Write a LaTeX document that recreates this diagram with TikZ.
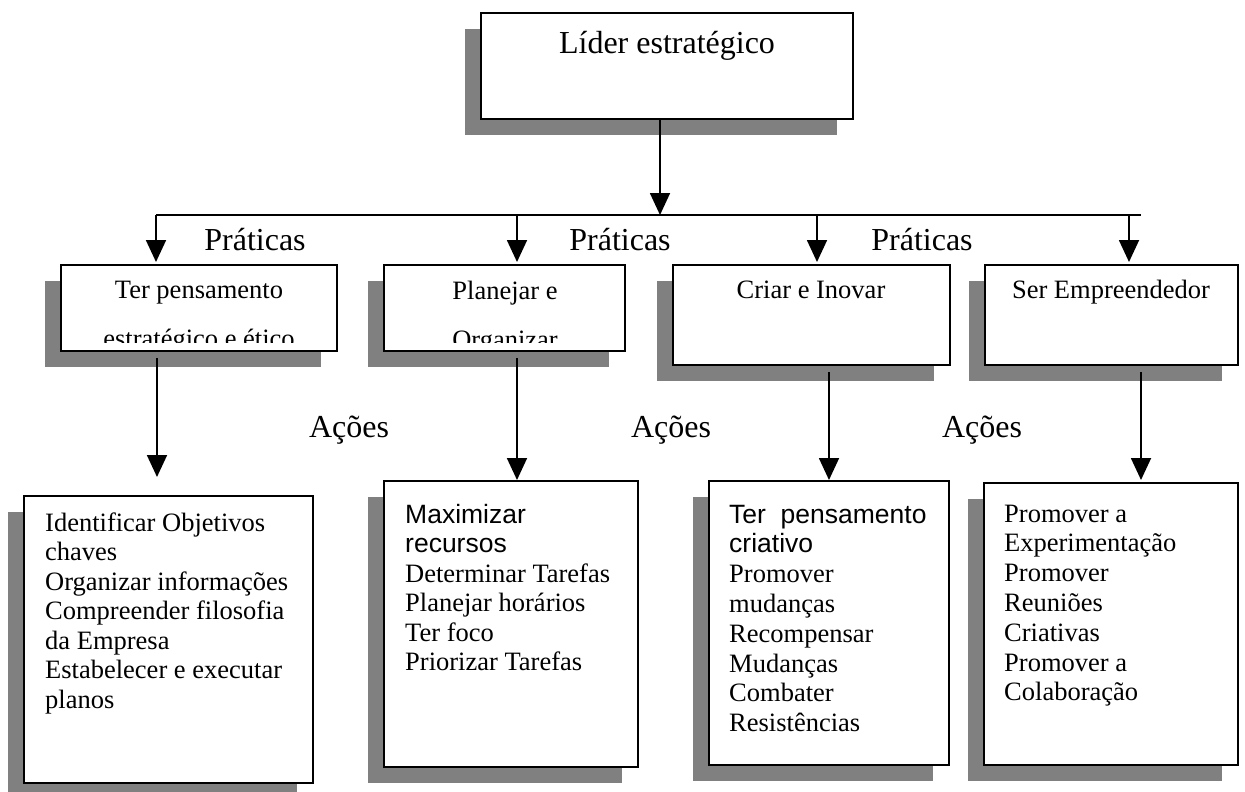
\documentclass[tikz,border=0pt]{standalone}
\usepackage{fontspec}
\setmainfont{Liberation Serif}
\newfontfamily\arialf{Liberation Sans}
\usetikzlibrary{arrows.meta,shadows}
\definecolor{shadowgray}{HTML}{808080}
\begin{document}
\begin{tikzpicture}[x=1pt,y=-1pt,
  box/.style={draw=black, line width=2pt, fill=white, inner sep=0pt, outer sep=0pt, anchor=north west,
     drop shadow={shadow xshift=-16pt, shadow yshift=-16pt, fill=shadowgray, opacity=1}},
  wire/.style={line width=1.8pt},
  conn/.style={line width=1.8pt, -{Triangle[width=20pt,length=22pt]}},
  lbl/.style={font=\fontsize{32}{36}\selectfont, inner sep=0pt, anchor=base},
  ltwo/.style={font=\fontsize{26.5}{30}\selectfont, inner sep=0pt, anchor=base},
  lthree/.style={font=\fontsize{26.5}{30}\selectfont, inner sep=0pt, anchor=base west},
]
\useasboundingbox (0,0) rectangle (1245,792);

% top box
\node[box, minimum width=372pt, minimum height=106pt] (T) at (481,13) {};
\node[lbl] (Tt) at (667,54) {Líder estratégico};

% level 2 boxes
\node[box, minimum width=276pt, minimum height=86pt] (B1) at (61,265) {};
\node[box, minimum width=241pt, minimum height=86pt] (B2) at (384,265) {};
\node[box, minimum width=277pt, minimum height=100pt] (B3) at (673,265) {};
\node[box, minimum width=253pt, minimum height=100pt] (B4) at (985,265) {};

\begin{scope}
  \clip (61,265) rectangle (337,342);
  \node[ltwo] (B1a) at (199,298) {Ter pensamento};
  \node[ltwo] (B1b) at (199,347) {estratégico e ético};
\end{scope}
\begin{scope}
  \clip (384,265) rectangle (625,342);
  \node[ltwo] (B2a) at (505,299) {Planejar e};
  \node[ltwo] (B2b) at (505,348) {Organizar};
\end{scope}
\node[ltwo] (B3a) at (811,298) {Criar e Inovar};
\node[ltwo] (B4a) at (1111,298) {Ser Empreendedor};

% level 3 boxes
\node[box, minimum width=289pt, minimum height=287pt] (A) at (24,496) {};
\node[box, minimum width=254pt, minimum height=286pt] (B) at (384,481) {};
\node[box, minimum width=240pt, minimum height=284pt] (C) at (709,481) {};
\node[box, minimum width=254pt, minimum height=282pt] (D) at (984,483) {};

\foreach \t [count=\i] in {Identificar Objetivos, chaves, Organizar informações,
   Compreender filosofia, da Empresa, Estabelecer e executar, planos}
  \node[lthree] (At\i) at (45,{531+29.5*(\i-1)}) {\t};

\foreach \t [count=\i] in {{\arialf Maximizar}, {\arialf recursos}, Determinar Tarefas,
   Planejar horários, Ter foco, Priorizar Tarefas}
  \node[lthree] (Bt\i) at (405,{523+29.5*(\i-1)}) {\t};

\foreach \t [count=\i] in {{\arialf Ter\ \ pensamento}, {\arialf criativo}, Promover, mudanças,
   Recompensar, Mudanças, Combater, Resistências}
  \node[lthree] (Ct\i) at (729,{523+29.8*(\i-1)}) {\t};

\foreach \t [count=\i] in {Promover a, Experimentação, Promover, Reuniões, Criativas,
   Promover a, Colaboração}
  \node[lthree] (Dt\i) at (1004,{522+29.8*(\i-1)}) {\t};

% labels
\node[lbl] (P1) at (255,250) {Práticas};
\node[lbl] (P2) at (620,250) {Práticas};
\node[lbl] (P3) at (922,250) {Práticas};
\node[lbl] (Q1) at (349,437) {Ações};
\node[lbl] (Q2) at (671,437) {Ações};
\node[lbl] (Q3) at (982,437) {Ações};

% connectors
\coordinate (j0) at (660,215);
\coordinate (hl) at (156,215);
\coordinate (hr) at (1141,215);
\coordinate (p2) at (517,215);
\coordinate (p3) at (817,215);
\coordinate (p4) at (1129,215);
\coordinate (q1) at (157,0);
\coordinate (q2) at (517,0);
\coordinate (q3) at (829,0);
\coordinate (q4) at (1141,0);

\draw[conn] (T.south -| j0) -- (j0);
\draw[wire] (hl) -- (hr);
\draw[conn] (hl) -- ([yshift=3pt]hl |- B1.north);
\draw[conn] (p2) -- ([yshift=3pt]p2 |- B2.north);
\draw[conn] (p3) -- ([yshift=3pt]p3 |- B3.north);
\draw[conn] (p4) -- ([yshift=3pt]p4 |- B4.north);

\draw[conn] ([yshift=-7pt]B1.south -| q1) -- ([yshift=19pt]A.north -| q1);
\draw[conn] ([yshift=-7pt]B2.south -| q2) -- ([yshift=1pt]B.north -| q2);
\draw[conn] ([yshift=-7pt]B3.south -| q3) -- ([yshift=1pt]C.north -| q3);
\draw[conn] ([yshift=-7pt]B4.south -| q4) -- ([yshift=3pt]D.north -| q4);
\end{tikzpicture}
\end{document}
